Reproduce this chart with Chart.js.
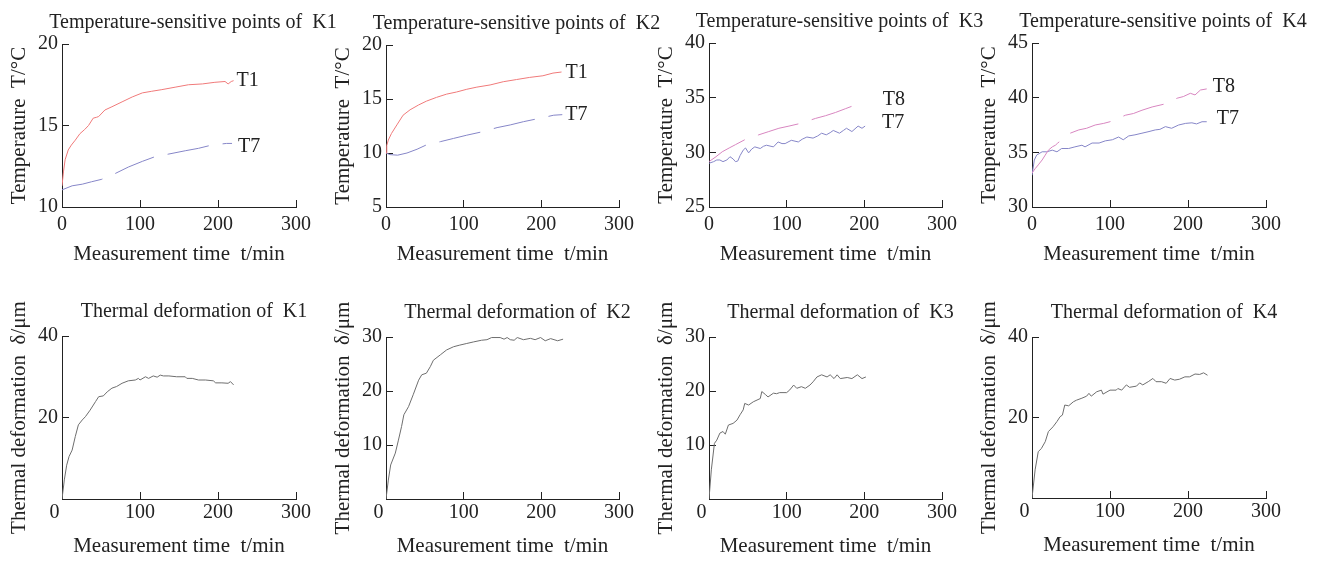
<!DOCTYPE html>
<html>
<head>
<meta charset="utf-8">
<script src="https://cdn.jsdelivr.net/npm/chart.js@4.4.1/dist/chart.umd.min.js"></script>
<style>
  html, body { margin: 0; padding: 0; background: #fff; }
  #wrap { position: relative; width: 1323px; height: 561px; overflow: hidden; }
  #wrap canvas { position: absolute; }
</style>
</head>
<body>
<div id="wrap"></div>
<script>
// ---- data (time in min, temperature in °C, deformation in µm) ----
const timeTicks = [0, 100, 200, 300];

const k1TempTicks = [10, 15, 20];
const k2TempTicks = [5, 10, 15, 20];
const k3TempTicks = [25, 30, 35, 40];
const k4TempTicks = [30, 35, 40, 45];
const k1DefTicks = [0, 20, 40];
const k2DefTicks = [0, 10, 20, 30];
const k3DefTicks = [0, 10, 20, 30];
const k4DefTicks = [0, 20, 40];

const k1T1Time = [0, 2, 4, 8, 12, 17, 23, 29, 34, 40, 44, 47, 55, 64, 77, 90, 103, 115, 128, 145, 162, 180, 196, 209, 213, 217, 220];
const k1T1 = [11.3, 12.2, 12.9, 13.5, 13.8, 14.1, 14.5, 14.75, 15.0, 15.45, 15.5, 15.55, 15.95, 16.15, 16.45, 16.75, 17.0, 17.1, 17.2, 17.35, 17.5, 17.55, 17.65, 17.7, 17.55, 17.7, 17.75];
const k1T7Time = [0, 13, 26, 38, 51, 68, 85, 103, 120, 137, 158, 175, 192, 211, 218];
const k1T7 = [11.05, 11.3, 11.4, 11.55, 11.7, 12.05, 12.45, 12.8, 13.1, 13.25, 13.45, 13.6, 13.8, 13.9, 13.9];

const k2T1Time = [0, 1, 3, 7, 14, 22, 31, 42, 52, 65, 78, 91, 104, 117, 134, 151, 168, 185, 202, 215, 226];
const k2T1 = [10.0, 10.7, 11.2, 11.8, 12.6, 13.5, 14.0, 14.45, 14.8, 15.15, 15.45, 15.65, 15.9, 16.1, 16.3, 16.6, 16.8, 17.0, 17.15, 17.4, 17.5];
const k2T7Time = [0, 5, 15, 27, 40, 52, 70, 87, 104, 123, 143, 160, 177, 197, 216, 227];
const k2T7 = [10.0, 9.85, 9.8, 10.0, 10.35, 10.75, 11.05, 11.35, 11.65, 11.95, 12.35, 12.6, 12.9, 13.2, 13.5, 13.55];

const k3T8Time = [0, 9, 17, 26, 34, 46, 64, 77, 90, 103, 118, 137, 150, 163, 176, 189];
const k3T8 = [29.15, 29.6, 30.05, 30.4, 30.7, 31.15, 31.6, 31.9, 32.2, 32.4, 32.65, 33.1, 33.35, 33.65, 34.0, 34.35];
const k3T7Time = [0, 6, 10, 14, 18, 23, 27, 31, 34, 37, 40, 44, 47, 51, 55, 59, 66, 70, 74, 83, 89, 94, 98, 106, 115, 120, 126, 134, 140, 145, 151, 156, 160, 168, 173, 177, 184, 188, 192, 197, 201];
const k3T7 = [29.0, 29.15, 29.3, 29.3, 29.15, 29.3, 29.6, 29.4, 29.15, 29.2, 29.7, 30.2, 30.4, 29.95, 30.3, 30.5, 30.35, 30.55, 30.65, 30.5, 30.95, 30.8, 30.8, 31.1, 30.95, 31.2, 31.4, 31.3, 31.5, 31.75, 31.6, 31.8, 32.0, 31.75, 32.0, 32.2, 31.9, 32.15, 32.4, 32.2, 32.4];

const k4T8Time = [0, 4, 8, 13, 17, 21, 26, 30, 33, 49, 60, 70, 81, 92, 100, 120, 130, 141, 154, 169, 186, 194, 203, 209, 216, 224];
const k4T8 = [33.1, 33.5, 33.85, 34.3, 34.75, 35.2, 35.5, 35.65, 35.85, 36.75, 37.05, 37.2, 37.5, 37.65, 37.8, 38.4, 38.55, 38.85, 39.15, 39.4, 39.95, 40.1, 40.4, 40.25, 40.7, 40.8];
const k4T7Time = [0, 3, 6, 13, 19, 26, 32, 38, 47, 55, 64, 68, 77, 86, 94, 103, 111, 117, 124, 132, 141, 150, 158, 164, 171, 179, 188, 197, 205, 211, 218, 224];
const k4T7 = [32.9, 34.3, 34.75, 35.05, 35.05, 35.2, 35.05, 35.35, 35.35, 35.5, 35.65, 35.5, 35.85, 35.85, 36.05, 36.15, 36.4, 36.15, 36.5, 36.6, 36.75, 36.9, 37.05, 37.1, 37.35, 37.2, 37.5, 37.65, 37.7, 37.6, 37.8, 37.8];

const k1DefTime = [0, 3, 6, 9, 13, 17, 21, 26, 30, 36, 43, 47, 53, 58, 64, 70, 77, 85, 94, 98, 100, 107, 111, 117, 122, 126, 130, 137, 147, 158, 160, 167, 175, 184, 194, 197, 205, 213, 216, 220];
const k1Def = [0, 4.7, 8.3, 10.4, 12.0, 15.3, 18.2, 19.4, 20.2, 21.8, 23.9, 25.1, 25.3, 26.3, 27.2, 27.6, 28.4, 29.0, 29.2, 29.6, 29.2, 30.0, 29.6, 30.2, 29.9, 30.4, 30.2, 30.2, 30.0, 30.0, 29.6, 29.6, 29.2, 29.2, 29.0, 28.5, 28.5, 28.4, 28.8, 28.0];
const k2DefTime = [0, 3, 6, 12, 16, 20, 23, 29, 35, 42, 46, 52, 57, 61, 70, 78, 87, 95, 104, 113, 123, 130, 136, 147, 152, 156, 160, 165, 169, 177, 186, 192, 199, 205, 212, 221, 228];
const k2Def = [0, 3.5, 6.3, 8.5, 10.9, 13.4, 15.6, 17.1, 19.3, 22.0, 23.0, 23.3, 24.5, 25.7, 26.7, 27.6, 28.2, 28.5, 28.8, 29.1, 29.4, 29.5, 29.9, 29.9, 29.6, 29.9, 29.5, 29.4, 29.9, 29.5, 29.75, 29.5, 29.9, 29.3, 29.7, 29.3, 29.6];
const k3DefTime = [0, 3, 7, 10, 14, 18, 21, 25, 31, 36, 40, 44, 46, 51, 57, 66, 68, 73, 76, 83, 87, 91, 100, 104, 109, 113, 119, 124, 130, 134, 139, 145, 152, 156, 161, 165, 169, 178, 184, 191, 197, 202];
const k3Def = [0, 5.4, 10.3, 10.9, 12.2, 12.5, 12.0, 13.7, 14.0, 14.6, 15.6, 16.5, 17.7, 17.4, 18.0, 18.6, 19.9, 19.3, 18.9, 19.6, 19.5, 19.7, 19.7, 20.2, 21.1, 20.5, 20.8, 20.5, 21.1, 21.7, 22.6, 23.0, 22.6, 23.0, 22.3, 23.0, 22.3, 22.5, 22.3, 23.0, 22.3, 22.6];
const k4DefTime = [0, 4, 8, 12, 17, 21, 27, 32, 36, 39, 42, 47, 53, 57, 64, 70, 73, 76, 83, 89, 91, 100, 108, 110, 115, 121, 125, 134, 138, 142, 149, 155, 159, 166, 172, 177, 183, 189, 196, 202, 209, 215, 220, 225];
const k4Def = [0, 7.0, 11.5, 12.3, 14.0, 16.5, 17.7, 19.0, 20.2, 20.6, 23.1, 22.9, 23.9, 24.3, 24.8, 25.3, 26.0, 25.3, 26.4, 26.8, 25.8, 26.8, 26.8, 27.2, 26.8, 28.1, 27.5, 27.8, 28.6, 28.1, 28.9, 29.7, 28.9, 28.9, 28.5, 29.7, 29.3, 29.5, 30.1, 30.1, 30.8, 30.7, 31.1, 30.5];

// ---- styling ----
const FONT = '"Liberation Serif", "Times New Roman", serif';
const INK = '#222';
const RED = '#f07a7a';
const BLUE = '#8686c8';
const PINK = '#d886c0';
const GREY = '#6e6e6e';
const DASH = [42, 14];

Chart.defaults.font.family = FONT;
Chart.defaults.color = INK;

function pts(xs, ys) {
  return xs.map((x, i) => ({ x: x, y: ys[i] }));
}

function line(label, xs, ys, color, dash) {
  return {
    label: label,
    data: pts(xs, ys),
    borderColor: color,
    borderWidth: 1,
    borderDash: dash || [],
    pointRadius: 0,
    tension: 0,
    fill: false
  };
}

// writes the series name just right of its last point
const endLabels = {
  id: 'endLabels',
  afterDatasetsDraw(chart, args, opts) {
    const ctx = chart.ctx;
    ctx.save();
    ctx.font = '20px ' + FONT;
    ctx.fillStyle = INK;
    ctx.textBaseline = 'middle';
    ctx.textAlign = 'left';
    chart.data.datasets.forEach((ds, i) => {
      if (!ds.label) return;
      const pts = chart.getDatasetMeta(i).data;
      const last = pts[pts.length - 1];
      const off = (opts.offsets && opts.offsets[i]) || [4, 0];
      ctx.fillText(ds.label, last.x + off[0], last.y + off[1]);
    });
    ctx.restore();
  }
};

function axisStyle() {
  return {
    grid: { drawOnChartArea: false, drawTicks: true, tickLength: -7, color: INK, lineWidth: 1 },
    border: { display: true, color: INK, width: 1 }
  };
}

// area = chart area box [left, top, right, bottom] in page pixels
function panel(area, row, title, yTitle, yTicks, datasets, offsets) {
  const L = area[0], T = area[1], R = area[2], B = area[3];
  const yw = 60, xh = 64;
  const pr = row === 0 ? 88 : 90;     // room right of the plot, also centres the title
  const head = row === 0 ? 33 : 36;
  const w = yw + (R - L) + pr;
  const h = head + (B - T) + xh;

  const cv = document.createElement('canvas');
  cv.width = w;
  cv.height = h;
  cv.style.left = (L - yw) + 'px';
  cv.style.top = (T - head) + 'px';
  cv.style.width = w + 'px';
  cv.style.height = h + 'px';
  document.getElementById('wrap').appendChild(cv);

  const xAxis = Object.assign(axisStyle(), {
    type: 'linear',
    min: timeTicks[0],
    max: timeTicks[timeTicks.length - 1],
    afterBuildTicks: s => { s.ticks = timeTicks.map(v => ({ value: v })); },
    ticks: {
      font: { size: 20 },
      color: INK,
      padding: row === 0 ? 13 : 9,
      maxRotation: 0,
      autoSkip: false,
      callback: v => (row === 1 && v === 0) ? '0   ' : String(v)
    },
    title: {
      display: true,
      text: 'Measurement time  t/min',
      font: { size: 21 },
      color: INK,
      padding: { top: 0, bottom: 4 }
    },
    afterFit: s => { s.height = xh; s.paddingRight = pr; }
  });

  const yAxis = Object.assign(axisStyle(), {
    type: 'linear',
    min: yTicks[0],
    max: yTicks[yTicks.length - 1],
    afterBuildTicks: s => { s.ticks = yTicks.map(v => ({ value: v })); },
    ticks: {
      font: { size: 20 },
      color: INK,
      padding: 11,
      autoSkip: false,
      callback: v => (row === 1 && v === 0) ? '' : String(v)
    },
    title: {
      display: true,
      text: yTitle,
      font: { size: 21 },
      color: INK,
      padding: { top: 4.4, bottom: 0 }
    },
    afterFit: s => { s.width = yw; }
  });

  new Chart(cv, {
    type: 'line',
    data: { datasets: datasets },
    options: {
      responsive: false,
      animation: false,
      devicePixelRatio: 1,
      layout: { padding: 0 },
      plugins: {
        legend: { display: false },
        tooltip: { enabled: false },
        title: {
          display: true,
          text: title,
          font: { size: 20, weight: 'normal', lineHeight: 1.2 },
          color: INK,
          padding: { top: 0, bottom: head - 24 }
        },
        endLabels: { offsets: offsets || [] }
      },
      scales: { x: xAxis, y: yAxis }
    },
    plugins: [endLabels]
  });
}

const tempTitle = 'Temperature  T/°C';
const defTitle = 'Thermal deformation  δ/μm';

panel([62, 44, 296, 207], 0, 'Temperature-sensitive points of  K1', tempTitle, k1TempTicks, [
  line('T1', k1T1Time, k1T1, RED),
  line('T7', k1T7Time, k1T7, BLUE, DASH)
], [[3, 0], [6, 3]]);

panel([386, 45, 619, 207], 0, 'Temperature-sensitive points of  K2', tempTitle, k2TempTicks, [
  line('T1', k2T1Time, k2T1, RED),
  line('T7', k2T7Time, k2T7, BLUE, DASH)
], [[4, 1], [3, 0]]);

panel([709, 43, 942, 207], 0, 'Temperature-sensitive points of  K3', tempTitle, k3TempTicks, [
  line('T8', k3T8Time, k3T8, PINK, DASH),
  line('T7', k3T7Time, k3T7, BLUE)
], [[27, -5], [17, -3]]);

panel([1032, 43, 1266, 207], 0, 'Temperature-sensitive points of  K4', tempTitle, k4TempTicks, [
  line('T8', k4T8Time, k4T8, PINK, DASH),
  line('T7', k4T7Time, k4T7, BLUE)
], [[6, -2], [10, -3]]);

panel([62, 336, 296, 499], 1, 'Thermal deformation of  K1', defTitle, k1DefTicks, [
  line('', k1DefTime, k1Def, GREY)
]);
panel([386, 337, 619, 499], 1, 'Thermal deformation of  K2', defTitle, k2DefTicks, [
  line('', k2DefTime, k2Def, GREY)
]);
panel([709, 337, 942, 499], 1, 'Thermal deformation of  K3', defTitle, k3DefTicks, [
  line('', k3DefTime, k3Def, GREY)
]);
panel([1032, 337, 1266, 498], 1, 'Thermal deformation of  K4', defTitle, k4DefTicks, [
  line('', k4DefTime, k4Def, GREY)
]);
</script>
</body>
</html>
